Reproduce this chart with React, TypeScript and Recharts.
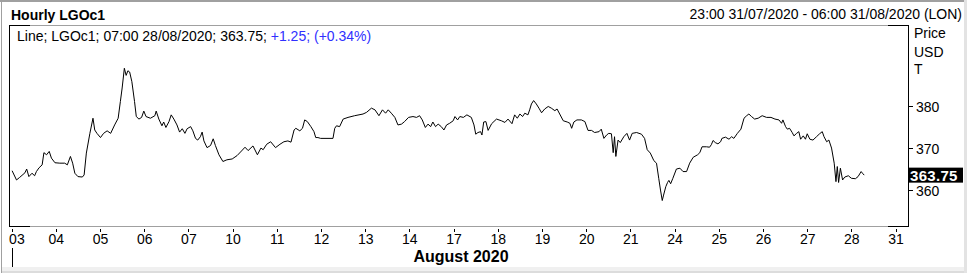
import React from "react";
import { LineChart, Line, XAxis, YAxis } from "recharts";

// Trading-day tick labels (weekends skipped), August 2020
const dayLabels = ["03","04","05","06","07","10","11","12","13","14","17","18","19","20","21","24","25","26","27","28","31"];
const tickDays = dayLabels.map((_, i) => i);

// Price axis ticks and the last value badge
const priceTicks = [360, 370, 380];
const lastPrice = 363.75;

// Time in trading days since 03 Aug (hourly sampled)
const timePos = [
  0.00,0.10,0.17,0.29,0.33,0.38,0.45,0.51,0.55,0.61,
  0.68,0.72,0.78,0.84,0.89,0.97,1.08,1.19,1.25,1.32,
  1.37,1.42,1.49,1.59,1.63,1.68,1.76,1.83,1.87,1.92,
  2.00,2.07,2.15,2.23,2.32,2.40,2.45,2.49,2.54,2.58,
  2.62,2.66,2.71,2.77,2.81,2.87,2.93,2.98,3.03,3.13,
  3.23,3.26,3.32,3.39,3.43,3.48,3.55,3.60,3.66,3.73,
  3.79,3.85,3.91,3.96,4.04,4.09,4.15,4.20,4.26,4.30,
  4.34,4.41,4.49,4.55,4.60,4.68,4.77,4.86,4.98,5.09,
  5.19,5.27,5.34,5.45,5.55,5.63,5.68,5.76,5.85,5.96,
  6.06,6.15,6.24,6.31,6.38,6.42,6.51,6.57,6.62,6.68,
  6.76,6.83,6.87,6.92,6.98,7.26,7.30,7.34,7.41,7.49,
  7.60,7.75,7.94,8.02,8.13,8.21,8.30,8.38,8.45,8.51,
  8.58,8.66,8.73,8.81,8.88,8.97,9.07,9.15,9.22,9.28,
  9.35,9.41,9.47,9.52,9.58,9.64,9.71,9.77,9.83,9.90,
  9.98,10.02,10.08,10.13,10.21,10.29,10.39,10.45,10.49,10.54,
  10.60,10.63,10.67,10.72,10.77,10.85,10.96,11.07,11.15,11.22,
  11.31,11.37,11.43,11.49,11.55,11.60,11.67,11.71,11.75,11.80,
  11.86,11.92,11.98,12.05,12.13,12.20,12.28,12.33,12.39,12.47,
  12.56,12.62,12.66,12.71,12.78,12.88,12.96,13.03,13.11,13.18,
  13.28,13.33,13.39,13.45,13.50,13.56,13.60,13.63,13.66,13.71,
  13.76,13.84,13.91,13.97,14.03,14.13,14.24,14.31,14.37,14.44,
  14.52,14.58,14.63,14.67,14.71,14.74,14.79,14.83,14.86,14.90,
  14.95,15.03,15.11,15.18,15.26,15.33,15.41,15.51,15.56,15.61,
  15.71,15.78,15.82,15.86,15.91,15.97,16.03,16.06,16.14,16.22,
  16.28,16.33,16.41,16.49,16.56,16.62,16.67,16.73,16.80,16.88,
  16.97,17.07,17.17,17.26,17.35,17.41,17.44,17.50,17.54,17.59,
  17.65,17.69,17.75,17.80,17.84,17.90,17.95,17.99,18.05,18.12,
  18.20,18.27,18.33,18.37,18.43,18.48,18.54,18.60,18.64,18.67,
  18.70,18.74,18.79,18.84,18.92,18.99,19.08,19.14,19.21,19.24,19.28
];

// LGOc1 price (USD/T)
const prices = [
  364.8,362.6,363.2,364.3,365.2,363.4,364.2,363.6,364.6,365.5,
  366.2,369.1,368.6,369.4,367.8,366.7,366.6,366.6,366.2,368.2,
  366.6,364.2,363.4,363.3,363.8,369.0,373.7,377.3,374.5,373.7,
  372.7,373.7,374.3,373.7,375.7,377.3,381.3,384.5,389.2,387.5,
  388.6,388.3,386.0,381.3,377.7,377.1,377.5,379.0,377.7,377.3,
  377.9,379.0,377.1,375.5,376.4,375.1,376.5,378.1,377.1,375.7,
  374.0,374.8,373.7,374.8,375.3,374.3,372.5,372.1,372.9,374.0,
  371.9,370.3,370.8,372.4,370.8,368.6,367.0,367.4,367.6,368.4,
  369.5,370.4,369.6,370.7,368.6,370.2,369.8,371.1,371.7,370.3,
  371.1,371.7,371.9,371.6,374.5,374.9,374.3,374.9,376.9,376.5,
  375.3,374.1,372.7,372.7,372.5,372.5,374.9,375.5,375.3,377.1,
  377.5,377.9,378.3,378.7,379.7,379.3,377.9,379.3,378.5,379.3,
  378.5,377.5,375.7,375.9,376.5,377.5,377.7,377.5,377.9,376.9,
  375.1,375.9,375.3,376.4,375.3,375.9,375.3,374.5,375.7,376.1,
  376.7,377.7,376.9,377.7,377.5,378.1,377.5,375.7,373.5,373.9,
  374.1,373.3,376.4,376.5,374.4,376.0,377.1,376.7,376.3,377.1,
  376.0,378.1,377.3,378.3,377.7,378.5,378.1,379.3,380.7,381.5,
  380.7,379.7,378.6,379.5,380.1,379.7,379.1,379.5,378.3,376.7,
  376.4,376.1,374.9,376.4,376.9,376.9,376.5,374.4,374.4,373.9,
  374.1,374.7,372.5,373.3,373.7,373.6,369.1,372.9,368.2,372.1,
  371.5,372.9,373.7,372.1,373.7,373.9,373.5,372.5,369.8,369.0,
  367.2,366.6,363.0,360.2,357.7,359.0,361.0,362.0,362.5,361.7,
  363.0,365.2,365.4,364.6,364.6,366.6,368.0,368.6,369.1,370.5,
  370.5,370.4,371.0,372.0,371.5,371.2,371.7,372.5,372.8,372.3,
  372.9,372.5,373.7,374.7,377.3,377.9,378.3,377.7,377.1,377.3,
  377.9,377.5,377.5,377.1,376.9,376.1,376.9,375.3,374.7,374.9,
  373.9,373.1,373.7,374.1,372.3,373.1,372.3,373.6,372.3,372.1,
  372.9,373.6,374.1,372.9,371.7,372.1,370.2,366.6,362.2,365.8,
  362.0,365.4,362.6,363.3,363.6,363.0,362.9,363.4,364.6,364.2,363.75
];

const data = timePos.map((t, i) => ({ t, price: prices[i] }));

const FONT = "'Liberation Sans', Arial, sans-serif";
const W = 967;
const H = 273;

const XTick = (props: any) => {
  const { x, y, payload, index } = props;
  const lx = Math.floor(x) + 0.5;
  const label = dayLabels[payload.value] ?? "";
  const first = index === 0;
  return (
    <g>
      <line x1={lx} x2={lx} y1={y + 2} y2={y + 5} stroke="#000" />
      <text
        x={first ? x - 3 : x}
        y={y + 12}
        textAnchor={first ? "start" : "middle"}
        dominantBaseline="central"
        fontSize={14}
        fontFamily={FONT}
        fill="#000"
      >
        {label}
      </text>
      {first && <line x1={lx} x2={lx} y1={y + 21} y2={y + 40} stroke="#000" />}
    </g>
  );
};

const YTick = (props: any) => {
  const { x, y, payload } = props;
  const v = payload.value;
  if (v === lastPrice) {
    return (
      <g>
        <rect x={x} y={y - 7.5} width={55} height={15} fill="#000" />
        <text
          x={x + 2}
          y={y + 0.5}
          dominantBaseline="central"
          fontSize={15}
          fontWeight="bold"
          fontFamily={FONT}
          fill="#fff"
          letterSpacing={0.3}
        >
          {v.toFixed(2)}
        </text>
      </g>
    );
  }
  const ly = Math.floor(y) + 0.5;
  return (
    <g>
      <line x1={x} x2={x + 5} y1={ly} y2={ly} stroke="#000" />
      <text x={x + 8} y={y} dominantBaseline="central" fontSize={14} fontFamily={FONT} fill="#000">
        {v}
      </text>
    </g>
  );
};

export default function App() {
  return (
    <div style={{ position: "fixed", left: 0, top: 0, width: W, height: H, background: "#fff" }}>
      <LineChart width={W} height={H} data={data} margin={{ top: 25, right: 0, bottom: 0, left: 9 }}>
        <XAxis
          dataKey="t"
          type="number"
          domain={[-0.07, 20.27]}
          ticks={tickDays}
          interval={0}
          tick={XTick}
          tickLine={false}
          axisLine={false}
          tickSize={0}
          tickMargin={0}
          height={46}
          allowDataOverflow
        />
        <YAxis
          orientation="right"
          width={59}
          domain={[351.4, 399.5]}
          ticks={[...priceTicks, lastPrice]}
          interval={0}
          tick={YTick}
          tickLine={false}
          axisLine={false}
          tickSize={0}
          tickMargin={0}
          allowDataOverflow
        />
        <Line
          type="linear"
          dataKey="price"
          stroke="#000"
          strokeWidth={1}
          dot={false}
          activeDot={false}
          isAnimationActive={false}
        />
      </LineChart>
      <svg
        width={W}
        height={H}
        style={{ position: "absolute", left: 0, top: 0, pointerEvents: "none" }}
      >
        {/* outer frame */}
        <rect x={0} y={0} width={W} height={2} fill="#a0a0a0" />
        <rect x={1} y={0} width={1} height={H} fill="#a0a0a0" />
        <rect x={964} y={0} width={3} height={H} fill="#e3e3e3" />
        <rect x={2} y={267} width={962} height={4} fill="#f0f0f0" />
        <rect x={2} y={271} width={962} height={2} fill="#dcdcdc" />
        {/* plot box */}
        <line x1={9} x2={908} y1={25.5} y2={25.5} stroke="#a0a0a0" />
        <line x1={9} x2={30} y1={25.5} y2={25.5} stroke="#000" />
        <line x1={888} x2={909} y1={25.5} y2={25.5} stroke="#000" />
        <line x1={9} x2={908} y1={226.5} y2={226.5} stroke="#a0a0a0" />
        <line x1={9} x2={30} y1={226.5} y2={226.5} stroke="#000" />
        <line x1={888} x2={909} y1={226.5} y2={226.5} stroke="#000" />
        <line x1={9.5} x2={9.5} y1={25} y2={227} stroke="#000" />
        <line x1={908.5} x2={908.5} y1={25} y2={227} stroke="#000" />
        {/* header */}
        <text x={11} y={14.5} dominantBaseline="central" fontSize={14} fontWeight="bold" fontFamily={FONT} fill="#000">
          Hourly LGOc1
        </text>
        <text x={962} y={14} textAnchor="end" dominantBaseline="central" fontSize={14} fontFamily={FONT} fill="#000">
          23:00 31/07/2020 - 06:00 31/08/2020 (LON)
        </text>
        {/* legend */}
        <text x={17} y={35.5} dominantBaseline="central" fontSize={14} fontFamily={FONT} fill="#000">
          Line; LGOc1; 07:00 28/08/2020; 363.75;{" "}
          <tspan fill="#3030ff">+1.25; (+0.34%)</tspan>
        </text>
        {/* axis unit labels */}
        <text x={914} y={33} dominantBaseline="central" fontSize={14} fontFamily={FONT} fill="#000">Price</text>
        <text x={914} y={51.5} dominantBaseline="central" fontSize={14} fontFamily={FONT} fill="#000">USD</text>
        <text x={914} y={69} dominantBaseline="central" fontSize={14} fontFamily={FONT} fill="#000">T</text>
        {/* month label */}
        <text x={461} y={256} textAnchor="middle" dominantBaseline="central" fontSize={16} fontWeight="bold" fontFamily={FONT} fill="#000">
          August 2020
        </text>
      </svg>
    </div>
  );
}
